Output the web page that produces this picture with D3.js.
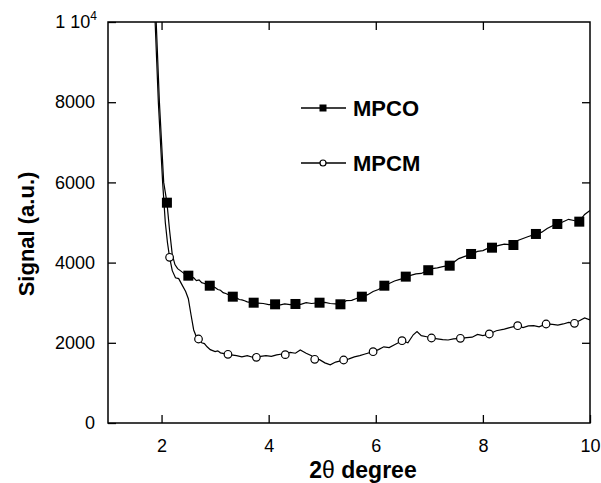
<!DOCTYPE html>
<html>
<head>
<meta charset="utf-8">
<script src="https://cdn.jsdelivr.net/npm/d3@7"></script>
<style>
  body { margin: 0; background: #fff; }
  svg { display: block; font-family: "Liberation Sans", Arial, sans-serif; }
</style>
</head>
<body>
<svg id="chart" width="601" height="483"></svg>
<script>
'use strict';
(function() {
    // data
    var xTicks = [2, 4, 6, 8, 10];
    var yTicks = [0, 2000, 4000, 6000, 8000, 10000];

    // MPCO trace [2theta, signal]
    var mpcoLine = [
        [1.90,10000],[1.93,9000],[1.96,8000],[2.00,7000],[2.04,6000],[2.10,5500],[2.15,4800],
        [2.20,4200],[2.25,3950],[2.30,3850],[2.35,3800],[2.40,3750],[2.45,3700],[2.50,3680],
        [2.55,3650],[2.60,3620],[2.65,3550],[2.70,3570],[2.75,3500],[2.80,3480],[2.85,3450],
        [2.90,3420],[2.95,3400],[3.00,3380],[3.05,3330],[3.10,3310],[3.15,3250],[3.20,3230],
        [3.25,3200],[3.33,3150],[3.40,3120],[3.45,3080],[3.50,3070],[3.55,3050],[3.60,3020],
        [3.66,3010],[3.72,3000],[3.80,2990],[3.90,2980],[4.00,2950],[4.12,2960],[4.20,2940],
        [4.30,2970],[4.40,2950],[4.50,2970],[4.60,2960],[4.70,3000],[4.80,2980],[4.95,3000],
        [5.05,3010],[5.15,2980],[5.25,2970],[5.34,2960],[5.45,3050],[5.55,3060],[5.65,3110],
        [5.74,3150],[5.85,3200],[5.95,3280],[6.05,3330],[6.16,3420],[6.25,3480],[6.35,3540],
        [6.45,3580],[6.56,3650],[6.65,3680],[6.75,3720],[6.85,3730],[6.96,3800],[7.05,3850],
        [7.15,3870],[7.25,3900],[7.38,3930],[7.45,4000],[7.55,4100],[7.65,4150],[7.78,4210],
        [7.90,4280],[8.00,4300],[8.10,4360],[8.17,4380],[8.30,4430],[8.40,4460],[8.50,4450],
        [8.57,4440],[8.65,4550],[8.75,4600],[8.85,4650],[8.99,4710],[9.10,4760],[9.20,4850],
        [9.30,4920],[9.39,4960],[9.50,5020],[9.60,5080],[9.70,5050],[9.80,5030],[9.90,5200],
        [10.0,5300]
    ];
    var mpcoMarks = [
        [2.10,5494],[2.50,3674],[2.90,3424],[3.33,3150],[3.72,3000],[4.12,2960],[4.50,2968],
        [4.95,3000],[5.34,2960],[5.74,3150],[6.16,3424],[6.56,3650],[6.98,3810],[7.38,3923],
        [7.78,4215],[8.17,4372],[8.57,4439],[8.99,4714],[9.39,4963],[9.80,5021]
    ];

    // MPCM trace
    var mpcmLine = [
        [1.88,10000],[1.91,9000],[1.94,8000],[1.98,7000],[2.02,6000],[2.07,5000],[2.11,4500],
        [2.15,4130],[2.20,3800],[2.26,3620],[2.32,3600],[2.38,3450],[2.45,3280],[2.50,3100],
        [2.55,2700],[2.60,2320],[2.65,2150],[2.69,2100],[2.75,2000],[2.80,1980],[2.85,1900],
        [2.91,1830],[3.00,1780],[3.05,1800],[3.10,1750],[3.17,1730],[3.24,1710],[3.30,1700],
        [3.40,1680],[3.50,1650],[3.60,1680],[3.70,1640],[3.77,1640],[3.85,1660],[3.95,1680],
        [4.05,1660],[4.15,1700],[4.25,1720],[4.31,1710],[4.40,1760],[4.50,1740],[4.59,1820],
        [4.70,1740],[4.80,1680],[4.86,1590],[4.95,1580],[5.05,1500],[5.15,1450],[5.25,1520],
        [5.40,1570],[5.50,1600],[5.60,1650],[5.70,1680],[5.80,1720],[5.95,1780],[6.05,1830],
        [6.15,1900],[6.25,1880],[6.35,1950],[6.49,2050],[6.60,2000],[6.70,2200],[6.77,2280],
        [6.85,2180],[6.95,2150],[7.05,2120],[7.15,2100],[7.25,2080],[7.35,2070],[7.45,2100],
        [7.58,2110],[7.70,2130],[7.80,2140],[7.90,2210],[8.00,2180],[8.12,2220],[8.25,2300],
        [8.40,2340],[8.50,2380],[8.65,2430],[8.75,2380],[8.85,2420],[8.95,2430],[9.05,2400],
        [9.18,2470],[9.30,2460],[9.40,2440],[9.50,2470],[9.60,2510],[9.71,2490],[9.80,2550],
        [9.90,2620],[10.0,2570]
    ];
    var mpcmMarks = [
        [2.15,4132],[2.69,2095],[3.24,1713],[3.77,1638],[4.31,1705],[4.86,1588],[5.40,1571],
        [5.95,1778],[6.49,2052],[7.04,2120],[7.58,2112],[8.12,2220],[8.65,2427],[9.18,2469],
        [9.71,2486]
    ];

    var left = 108, right = 590, top = 22, bottom = 423;
    var tickLen = 8;

    var svg = d3.select('#chart');

    var x = d3.scaleLinear().domain([1, 10]).range([left, right]);
    var y = d3.scaleLinear().domain([0, 10000]).range([bottom, top]);

    svg.append('clipPath').attr('id', 'plotclip')
        .append('rect')
        .attr('x', left).attr('y', top)
        .attr('width', right - left).attr('height', bottom - top);

    var line = d3.line()
        .x(function(d) { return x(d[0]); })
        .y(function(d) { return y(d[1]); });

    var plot = svg.append('g').attr('clip-path', 'url(#plotclip)');

    plot.append('path').datum(mpcoLine)
        .attr('d', line).attr('fill', 'none')
        .attr('stroke', '#000').attr('stroke-width', 1.2);
    plot.append('path').datum(mpcmLine)
        .attr('d', line).attr('fill', 'none')
        .attr('stroke', '#000').attr('stroke-width', 1.2);

    plot.selectAll('rect.sq').data(mpcoMarks).enter().append('rect')
        .attr('class', 'sq')
        .attr('x', function(d) { return x(d[0]) - 5; })
        .attr('y', function(d) { return y(d[1]) - 5; })
        .attr('width', 10).attr('height', 10)
        .attr('fill', '#000');

    plot.selectAll('circle.ci').data(mpcmMarks).enter().append('circle')
        .attr('class', 'ci')
        .attr('cx', function(d) { return x(d[0]); })
        .attr('cy', function(d) { return y(d[1]); })
        .attr('r', 3.8)
        .attr('fill', '#fff').attr('stroke', '#000').attr('stroke-width', 1.2);

    // axes, ticks pointing inwards on all four sides
    var axisStyle = function(g) {
        g.select('.domain').remove();
        g.selectAll('.tick line').attr('stroke', '#000').attr('stroke-width', 1.3);
    };

    svg.append('g')
        .attr('transform', 'translate(0,' + bottom + ')')
        .call(d3.axisBottom(x).tickValues(xTicks).tickSizeInner(-tickLen).tickSizeOuter(0).tickPadding(16))
        .call(axisStyle)
        .selectAll('text')
        .attr('font-size', 18).attr('fill', '#000')
        .attr('font-family', '"Liberation Sans", Arial, sans-serif');

    svg.append('g')
        .attr('transform', 'translate(0,' + top + ')')
        .call(d3.axisTop(x).tickValues([2, 4, 6, 8]).tickSizeInner(-tickLen).tickSizeOuter(0).tickFormat(''))
        .call(axisStyle);

    var yAxis = svg.append('g')
        .attr('transform', 'translate(' + left + ',0)')
        .call(d3.axisLeft(y).tickValues(yTicks).tickSizeInner(-tickLen).tickSizeOuter(0).tickPadding(13)
            .tickFormat(function(d) { return d === 10000 ? '' : d; }))
        .call(axisStyle);
    yAxis.selectAll('text')
        .attr('font-size', 18).attr('fill', '#000')
        .attr('font-family', '"Liberation Sans", Arial, sans-serif');

    // top label written as "1 10^4"
    var topLab = svg.append('text')
        .attr('x', 97).attr('y', y(10000) + 6)
        .attr('text-anchor', 'end')
        .attr('font-size', 18).attr('fill', '#000');
    topLab.append('tspan').text('1 10');
    topLab.append('tspan').attr('dy', -8).attr('font-size', 12).text('4');

    svg.append('g')
        .attr('transform', 'translate(' + right + ',0)')
        .call(d3.axisRight(y).tickValues([2000, 4000, 6000, 8000]).tickSizeInner(-tickLen).tickSizeOuter(0).tickFormat(''))
        .call(axisStyle);

    // frame
    svg.append('rect')
        .attr('x', left).attr('y', top)
        .attr('width', right - left).attr('height', bottom - top)
        .attr('fill', 'none').attr('stroke', '#000').attr('stroke-width', 1.5);

    // axis titles
    var xt = svg.append('text')
        .attr('x', 363).attr('y', 478)
        .attr('text-anchor', 'middle')
        .attr('font-size', 23).attr('font-weight', 'bold').attr('fill', '#000');
    xt.append('tspan').text('2');
    xt.append('tspan').attr('font-weight', 'normal').text('θ');
    xt.append('tspan').text(' degree');

    svg.append('text')
        .attr('transform', 'translate(34,234) rotate(-90)')
        .attr('text-anchor', 'middle')
        .attr('font-size', 22).attr('font-weight', 'bold').attr('fill', '#000')
        .text('Signal (a.u.)');

    // legend
    var legend = [
        { name: 'MPCO', y: 108, mark: 'square' },
        { name: 'MPCM', y: 163, mark: 'circle' }
    ];
    var lg = svg.selectAll('g.legend').data(legend).enter().append('g').attr('class', 'legend');
    lg.append('line')
        .attr('x1', 301).attr('x2', 346)
        .attr('y1', function(d) { return d.y; }).attr('y2', function(d) { return d.y; })
        .attr('stroke', '#000').attr('stroke-width', 1.3);
    lg.filter(function(d) { return d.mark === 'square'; }).append('rect')
        .attr('x', 319.5).attr('y', function(d) { return d.y - 3.5; })
        .attr('width', 7).attr('height', 7).attr('fill', '#000');
    lg.filter(function(d) { return d.mark === 'circle'; }).append('circle')
        .attr('cx', 323).attr('cy', function(d) { return d.y; }).attr('r', 3)
        .attr('fill', '#fff').attr('stroke', '#000').attr('stroke-width', 1.2);
    lg.append('text')
        .attr('x', 353).attr('y', function(d) { return d.y + 8; })
        .attr('font-size', 22).attr('font-weight', 'bold').attr('fill', '#000')
        .text(function(d) { return d.name; });
})();
</script>
</body>
</html>
